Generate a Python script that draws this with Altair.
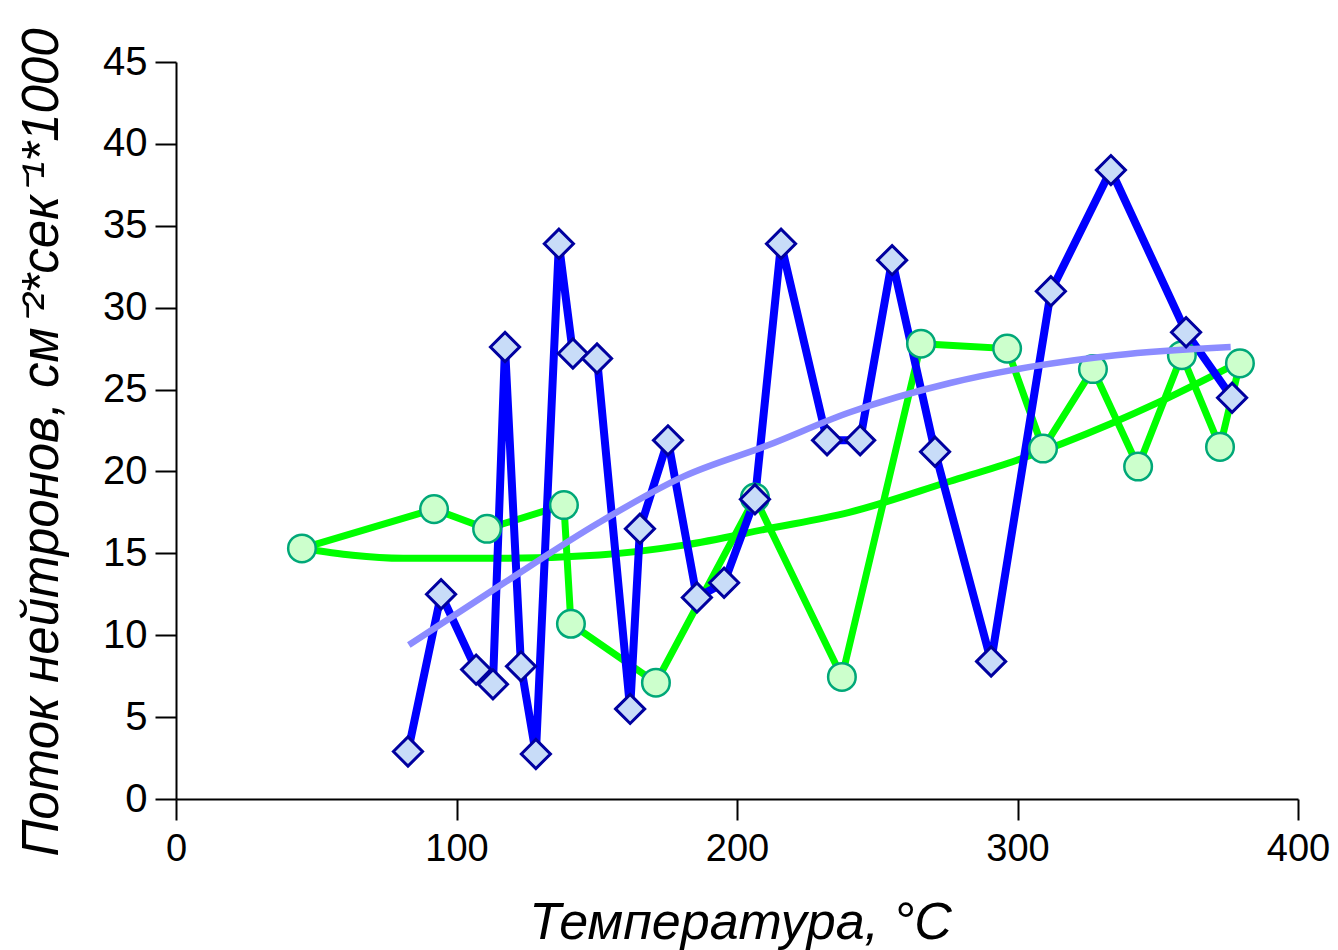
import altair as alt
import pandas as pd

# Blue series (diamonds)
blue_t = [82.7, 94.5, 107.0, 113.0, 117.3, 123.0, 128.3, 136.5, 141.5, 150.1, 161.9, 165.4,
          175.4, 185.7, 195.4, 206.4, 215.7, 232.1, 243.9, 255.3, 270.6, 290.6, 311.9,
          333.3, 360.1, 376.5]
blue_f = [2.9, 12.5, 7.9, 7.0, 27.6, 8.1, 2.75, 33.9, 27.2, 26.9, 5.5, 16.5,
          21.9, 12.3, 13.2, 18.3, 33.9, 21.9, 21.9, 32.9, 21.2, 8.4, 31.0,
          38.4, 28.5, 24.5]

# Green series (circles)
green_t = [44.9, 92.0, 110.9, 138.3, 140.8, 171.1, 206.4, 237.4, 265.6, 296.3, 309.1,
           326.9, 343.0, 358.6, 372.2, 379.3]
green_f = [15.3, 17.7, 16.5, 17.95, 10.7, 7.1, 18.4, 7.45, 27.8, 27.5, 21.4,
           26.25, 20.3, 27.1, 21.5, 26.6]

# Green trend curve
gtrend_t = [45, 81, 117, 151, 181, 211, 240, 276, 300, 333, 350, 377]
gtrend_f = [15.3, 14.7, 14.7, 14.9, 15.5, 16.5, 17.5, 19.4, 20.7, 22.9, 24.2, 26.5]

# Blue trend curve
btrend_t = [83, 117, 151, 181, 211, 240, 276, 305, 335, 376]
btrend_f = [9.4, 13.2, 16.9, 19.7, 21.6, 23.6, 25.4, 26.4, 27.1, 27.6]

x_ticks = [0, 100, 200, 300, 400]
y_ticks = [0, 5, 10, 15, 20, 25, 30, 35, 40, 45]

def df(t, f):
    return pd.DataFrame({"t": t, "f": f, "o": list(range(len(t)))})

blue = df(blue_t, blue_f)
green = df(green_t, green_f)
gtrend = df(gtrend_t, gtrend_f)
btrend = df(btrend_t, btrend_f)

FONT = "Liberation Sans"

X = alt.X("t:Q", scale=alt.Scale(domain=[0, 400], nice=False, zero=False),
          axis=alt.Axis(values=x_ticks, title="Температура, °C", grid=False,
                        domainColor="black", domainWidth=2, tickColor="black",
                        tickWidth=2, tickSize=21, labelFont=FONT, labelFontSize=38,
                        labelColor="black", labelPadding=10, labelFlush=False,
                        titleFont=FONT, titleFontSize=52, titleFontStyle="italic",
                        titleFontWeight="normal", titleColor="black",
                        titleX=564, titleY=139, titleBaseline="alphabetic",
                        titleAnchor="middle", titleAlign="center"))
Y = alt.Y("f:Q", scale=alt.Scale(domain=[0, 45], nice=False, zero=False),
          axis=alt.Axis(values=y_ticks, title="Поток  нейтронов, см⁻²*сек⁻¹*1000",
                        grid=False, domainColor="black", domainWidth=2,
                        tickColor="black", tickWidth=2, tickSize=21, labelFont=FONT,
                        labelFontSize=40, labelColor="black", labelPadding=8,
                        labelFlush=False,
                        titleFont=FONT, titleFontSize=51, titleFontStyle="italic",
                        titleFontWeight="normal", titleColor="black",
                        titleX=-119, titleY=380, titleBaseline="alphabetic",
                        titleAngle=270, titleAlign="center"))
O = alt.Order("o:Q")

green_line = alt.Chart(green).mark_line(color="#00FF00", strokeWidth=7).encode(x=X, y=Y, order=O)
green_trend = alt.Chart(gtrend).mark_line(color="#00FF00", strokeWidth=7,
                                          interpolate="monotone").encode(x=X, y=Y, order=O)
blue_line = alt.Chart(blue).mark_line(color="#0000FF", strokeWidth=8).encode(x=X, y=Y, order=O)
blue_trend = alt.Chart(btrend).mark_line(color="#8C8CFF", strokeWidth=6.5,
                                         interpolate="monotone").encode(x=X, y=Y, order=O)
green_pts = alt.Chart(green).mark_point(shape="circle", filled=True, size=760,
                                        fill="#CCFFCC", stroke="#00A878", strokeWidth=2.5,
                                        opacity=1).encode(x=X, y=Y)
blue_pts = alt.Chart(blue).mark_point(shape="diamond", filled=True, size=850,
                                      fill="#C8DCF8", stroke="#0000A0", strokeWidth=3,
                                      opacity=1).encode(x=X, y=Y)

chart = alt.layer(green_line, green_trend, blue_line, green_pts, blue_trend, blue_pts).properties(
    width=1122, height=737,
    padding={"left": 176, "top": 62, "right": 40, "bottom": 151},
    autosize=alt.AutoSizeParams(type="none"),
    background="white",
).configure_view(stroke=None)

chart.save("out.html", embed_options={"renderer": "svg", "actions": False})
